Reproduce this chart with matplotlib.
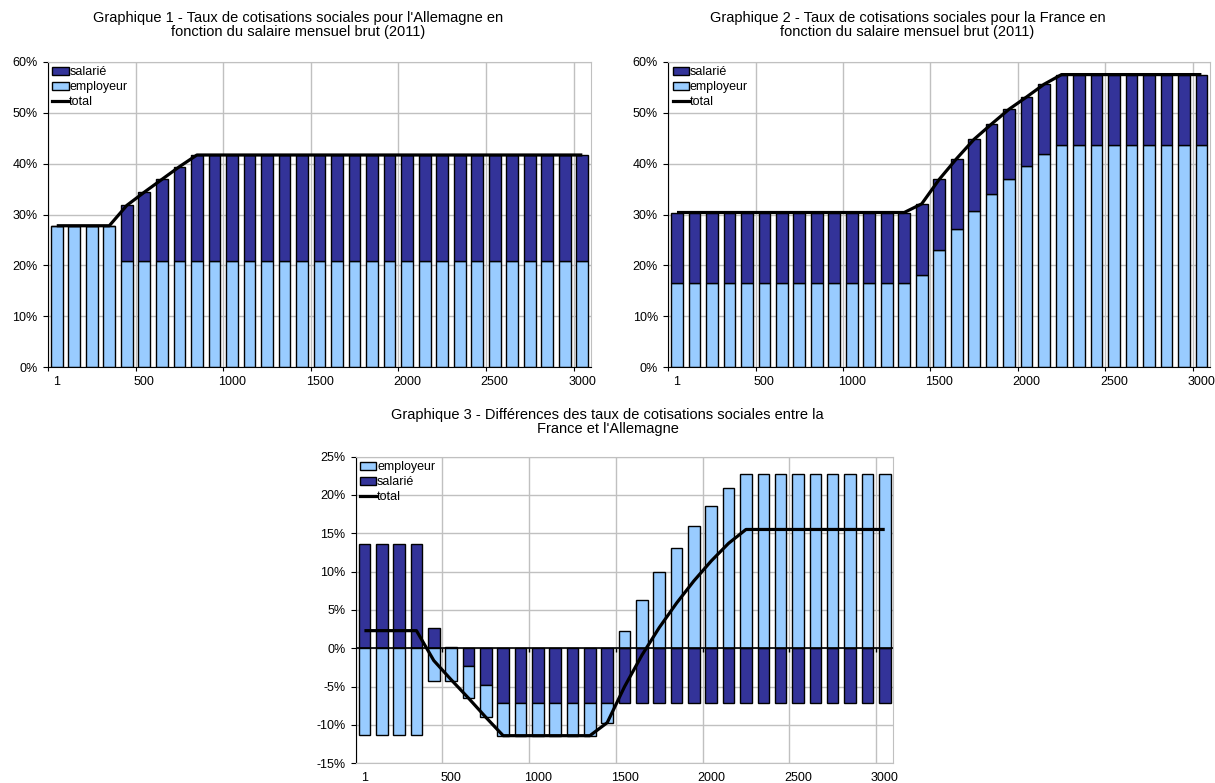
import matplotlib.pyplot as plt
import numpy as np
from matplotlib.patches import Patch
from matplotlib.lines import Line2D
from matplotlib.ticker import FuncFormatter

plt.rcParams['font.family'] = ['Liberation Sans', 'DejaVu Sans']

# Salaire mensuel brut (categories) et etiquettes
salaires = [1, 100, 200, 300, 400, 500, 600, 700, 800, 900, 1000,
            1100, 1200, 1300, 1400, 1500, 1600, 1700, 1800, 1900, 2000,
            2100, 2200, 2300, 2400, 2500, 2600, 2700, 2800, 2900, 3000]
tick_labels = ['1', '500', '1000', '1500', '2000', '2500', '3000']

# Graphique 1 - Allemagne (en %)
de_employeur = [27.8, 27.8, 27.8, 27.8, 20.8, 20.8, 20.8, 20.8, 20.8, 20.8,
                20.8, 20.8, 20.8, 20.8, 20.8, 20.8, 20.8, 20.8, 20.8, 20.8,
                20.8, 20.8, 20.8, 20.8, 20.8, 20.8, 20.8, 20.8, 20.8, 20.8, 20.8]
de_salarie = [0, 0, 0, 0, 11.0, 13.6, 16.1, 18.6, 20.9, 20.9,
              20.9, 20.9, 20.9, 20.9, 20.9, 20.9, 20.9, 20.9, 20.9, 20.9,
              20.9, 20.9, 20.9, 20.9, 20.9, 20.9, 20.9, 20.9, 20.9, 20.9, 20.9]

# Graphique 2 - France (en %)
fr_employeur = [16.5, 16.5, 16.5, 16.5, 16.5, 16.5, 16.5, 16.5, 16.5, 16.5,
                16.5, 16.5, 16.5, 16.5, 18.2, 23.0, 27.1, 30.6, 34.0, 36.9,
                39.5, 41.8, 43.6, 43.6, 43.6, 43.6, 43.6, 43.6, 43.6, 43.6, 43.6]
fr_salarie = [13.9, 13.9, 13.9, 13.9, 13.9, 13.9, 13.9, 13.9, 13.9, 13.9,
              13.9, 13.9, 13.9, 13.9, 13.9, 13.9, 13.9, 14.2, 13.8, 13.8,
              13.6, 13.8, 13.9, 13.9, 13.9, 13.9, 13.9, 13.9, 13.9, 13.9, 13.9]

# Graphique 3 - Differences France - Allemagne (en %)
diff_salarie = [13.6, 13.6, 13.6, 13.6, 2.7, 0.2, -2.3, -4.8, -7.2, -7.2,
                -7.2, -7.2, -7.2, -7.2, -7.2, -7.2, -7.2, -7.2, -7.2, -7.2,
                -7.2, -7.2, -7.2, -7.2, -7.2, -7.2, -7.2, -7.2, -7.2, -7.2, -7.2]
diff_employeur = [-11.3, -11.3, -11.3, -11.3, -4.3, -4.3, -4.2, -4.2, -4.2, -4.2,
                  -4.2, -4.2, -4.2, -4.2, -2.5, 2.2, 6.3, 9.9, 13.1, 16.0,
                  18.6, 20.9, 22.7, 22.7, 22.7, 22.7, 22.7, 22.7, 22.7, 22.7, 22.7]

DARK = '#333399'
LIGHT = '#99ccff'
GRID = '#c0c0c0'


def stacked(ax, s1, s2, c1, c2, ymin, ymax, ystep):
    s1 = np.array(s1)
    s2 = np.array(s2)
    n = len(salaires)
    x = np.arange(n) + 0.5
    ax.bar(x, s1, width=0.67, color=c1, edgecolor='black', linewidth=1, zorder=2)
    # empilement facon Excel : positifs vers le haut, negatifs vers le bas
    bottom2 = np.where(s2 >= 0, np.maximum(s1, 0), np.minimum(s1, 0))
    ax.bar(x, s2, bottom=bottom2, width=0.67, color=c2, edgecolor='black',
           linewidth=1, zorder=2)
    ax.plot(x, s1 + s2, color='black', linewidth=2.3, zorder=3,
            solid_capstyle='butt')

    ax.set_xlim(0, n)
    ax.set_ylim(ymin, ymax)
    ax.set_yticks(np.arange(ymin, ymax + 0.1, ystep))
    ax.yaxis.set_major_formatter(FuncFormatter(lambda v, p: '%d%%' % round(v)))
    # ticks aux limites de categories, etiquettes au centre des categories
    ax.set_xticks(np.arange(0, n, 5))
    ax.set_xticklabels([])
    ax.set_xticks(np.arange(0, n, 5) + 0.5, minor=True)
    ax.set_xticklabels(tick_labels, minor=True)
    ax.tick_params(axis='x', which='minor', length=0, pad=6, labelsize=9)
    ax.tick_params(axis='x', which='major', length=3, color='black')
    ax.tick_params(axis='y', length=3.5, pad=4, labelsize=9, color='black')
    ax.grid(True, which='major', color=GRID, linewidth=1, zorder=0)
    ax.set_axisbelow(True)
    for s in ['top', 'right']:
        ax.spines[s].set_color(GRID)
    ax.spines['left'].set_color('black')
    ax.spines['bottom'].set_color('black')


def legende(ax, labels, colors):
    handles = [Patch(facecolor=c, edgecolor='black', linewidth=1) for c in colors]
    handles.append(Line2D([0], [0], color='black', linewidth=2.3))
    ax.legend(handles, labels + ['total'], loc='upper left', frameon=False,
              fontsize=9, handlelength=1.3, handleheight=0.6,
              handletextpad=0.05, labelspacing=0.25, borderpad=0.15,
              borderaxespad=0.2)


fig = plt.figure(figsize=(12.15, 7.83), dpi=100)

ax1 = fig.add_axes([0.0395, 0.531, 0.447, 0.390])
stacked(ax1, de_employeur, de_salarie, LIGHT, DARK, 0, 60, 10)
legende(ax1, ['salarié', 'employeur'], [DARK, LIGHT])
fig.text(0.245, 0.986, "Graphique 1 - Taux de cotisations sociales pour l'Allemagne en\n"
         "fonction du salaire mensuel brut (2011)", ha='center', va='top',
         fontsize=10.5, linespacing=1.0)

ax2 = fig.add_axes([0.550, 0.531, 0.446, 0.390])
stacked(ax2, fr_employeur, fr_salarie, LIGHT, DARK, 0, 60, 10)
legende(ax2, ['salarié', 'employeur'], [DARK, LIGHT])
fig.text(0.747, 0.986, "Graphique 2 - Taux de cotisations sociales pour la France en\n"
         "fonction du salaire mensuel brut (2011)", ha='center', va='top',
         fontsize=10.5, linespacing=1.0)

ax3 = fig.add_axes([0.2928, 0.0252, 0.4425, 0.3916])
stacked(ax3, diff_salarie, diff_employeur, DARK, LIGHT, -15, 25, 5)
ax3.axhline(0, color='black', linewidth=1.2, zorder=2.5)
ax3.vlines(np.arange(5, len(salaires), 5), -0.5, 0, color='black',
           linewidth=1, zorder=2.5)
ax3.spines['bottom'].set_color(GRID)
ax3.tick_params(axis='x', which='major', length=0)
legende(ax3, ['employeur', 'salarié'], [LIGHT, DARK])
fig.text(0.5, 0.4795, "Graphique 3 - Différences des taux de cotisations sociales entre la\n"
         "France et l'Allemagne", ha='center', va='top',
         fontsize=10.5, linespacing=1.0)

fig.savefig('out.png', dpi=100)
